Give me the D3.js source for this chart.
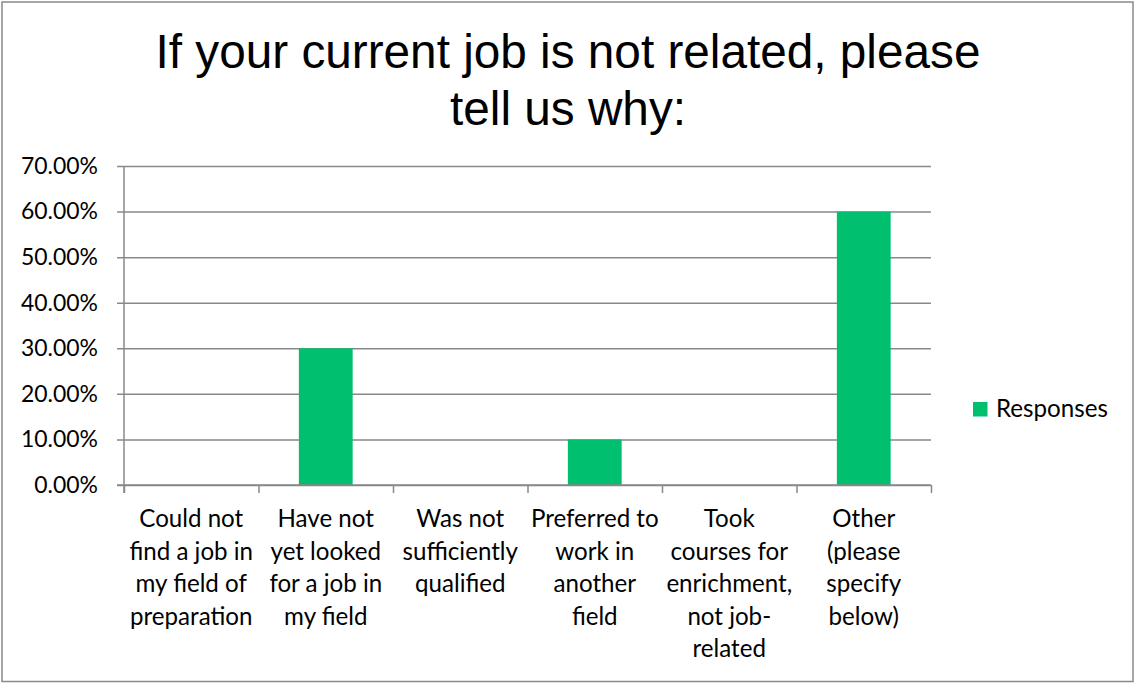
<!DOCTYPE html>
<html>
<head>
<meta charset="utf-8">
<script src="https://cdn.jsdelivr.net/npm/d3@7"></script>
<style>
  html, body { margin: 0; padding: 0; background: #fff; }
  svg { display: block; }
</style>
</head>
<body>
<svg id="chart" width="1134" height="683"></svg>
<script>
// ---- data ----
const titleLines = ["If your current job is not related, please", "tell us why:"];
const categoryLines = [
  ["Could not", "find a job in", "my field of", "preparation"],
  ["Have not", "yet looked", "for a job in", "my field"],
  ["Was not", "sufficiently", "qualified"],
  ["Preferred to", "work in", "another", "field"],
  ["Took", "courses for", "enrichment,", "not job-", "related"],
  ["Other", "(please", "specify", "below)"]
];
const categories = categoryLines.map(l => l.join(" ").replace("job- ", "job-"));
const responses = [0.00, 0.30, 0.00, 0.10, 0.00, 0.60];
const yTicks = [0, 0.1, 0.2, 0.3, 0.4, 0.5, 0.6, 0.7];
const seriesName = "Responses";

// ---- layout ----
const W = 1134, H = 683;
const plot = { left: 124, right: 931, top: 166, bottom: 485 };
const gridColor = "#898989";
const barColor = "#00bf6f";
const labelFont = "Lato, 'Open Sans', sans-serif";
const titleFont = "'Liberation Sans', Arial, sans-serif";

const svg = d3.select("#chart");
svg.append("rect").attr("width", W).attr("height", H).attr("fill", "#fff");

function fitSize(text, family, targetWidth) {
  const t = svg.append("text").attr("font-family", family).attr("font-size", 100).text(text);
  const w = t.node().getComputedTextLength();
  t.remove();
  return 100 * targetWidth / w;
}
const catSize = fitSize("Could not", labelFont, 104);
const numSize = fitSize("70.00%", labelFont, 77);
const legSize = fitSize(seriesName, labelFont, 112);
const titleSize = fitSize(titleLines[0], titleFont, 825);

// outer border
svg.append("rect")
  .attr("x", 2).attr("y", 2).attr("width", 1131).attr("height", 679.5)
  .attr("fill", "none").attr("stroke", gridColor).attr("stroke-width", 1.5);

// title
svg.append("text")
  .attr("x", 568).attr("y", 68)
  .attr("text-anchor", "middle")
  .attr("font-family", titleFont).attr("font-size", titleSize).attr("fill", "#000")
  .selectAll("tspan").data(titleLines).join("tspan")
  .attr("x", 568).attr("dy", (d, i) => i === 0 ? 0 : 57)
  .text(d => d);

// scales
const x = d3.scaleBand().domain(categories)
  .range([plot.left, plot.right]).paddingInner(0.6).paddingOuter(0.3);
const y = d3.scaleLinear().domain([0, 0.7]).range([plot.bottom, plot.top]);
const xb = d3.scaleLinear().domain([0, categories.length]).range([plot.left, plot.right]);

// gridlines + y axis
const yAxis = d3.axisLeft(y).tickValues(yTicks).tickFormat(d3.format(".2%"))
  .tickSizeInner(-(plot.right - plot.left)).tickSizeOuter(0).tickPadding(26);
const gy = svg.append("g").attr("transform", `translate(${plot.left},0)`).call(yAxis);
gy.select(".domain").remove();
gy.selectAll(".tick line")
  .attr("x1", -7)
  .attr("stroke", gridColor).attr("stroke-width", 1.5);
gy.selectAll(".tick text")
  .attr("font-family", labelFont).attr("font-size", numSize).attr("fill", "#000")
  .attr("dy", "0.32em");

// bars
svg.append("g").selectAll("rect").data(responses).join("rect")
  .attr("x", (d, i) => x(categories[i]))
  .attr("y", d => y(d))
  .attr("width", x.bandwidth())
  .attr("height", d => y(0) - y(d))
  .attr("fill", barColor);

// y axis line
svg.append("line")
  .attr("x1", plot.left).attr("x2", plot.left)
  .attr("y1", plot.top).attr("y2", plot.bottom + 8)
  .attr("stroke", gridColor).attr("stroke-width", 1.5);

// x axis: line + boundary ticks
const xAxis = d3.axisBottom(xb).tickValues(d3.range(categories.length + 1))
  .tickFormat("").tickSizeInner(8).tickSizeOuter(0);
const gx = svg.append("g").attr("transform", `translate(0,${plot.bottom})`).call(xAxis);
gx.select(".domain").attr("stroke", gridColor).attr("stroke-width", 1.5)
  .attr("d", `M${plot.left - 7},0H${plot.right}`);
gx.selectAll(".tick line").attr("stroke", gridColor).attr("stroke-width", 1.5);

// category labels
const lab = d3.axisBottom(x).tickSize(0).tickFormat("");
const gl = svg.append("g").attr("transform", `translate(0,${plot.bottom})`).call(lab);
gl.select(".domain").remove();
gl.selectAll(".tick").each(function(d, i) {
  const t = d3.select(this).append("text")
    .attr("text-anchor", "middle")
    .attr("font-family", labelFont).attr("font-size", catSize).attr("fill", "#000")
    .attr("y", 42);
  t.selectAll("tspan").data(categoryLines[i]).join("tspan")
    .attr("x", 0).attr("dy", (s, j) => j === 0 ? 0 : 32.5)
    .text(s => s);
});

// legend
const lg = svg.append("g");
lg.append("rect").attr("x", 973).attr("y", 402).attr("width", 14.5).attr("height", 14.5).attr("fill", barColor);
lg.append("text").attr("x", 996).attr("y", 417)
  .attr("font-family", labelFont).attr("font-size", legSize).attr("fill", "#000")
  .text(seriesName);
</script>
</body>
</html>
